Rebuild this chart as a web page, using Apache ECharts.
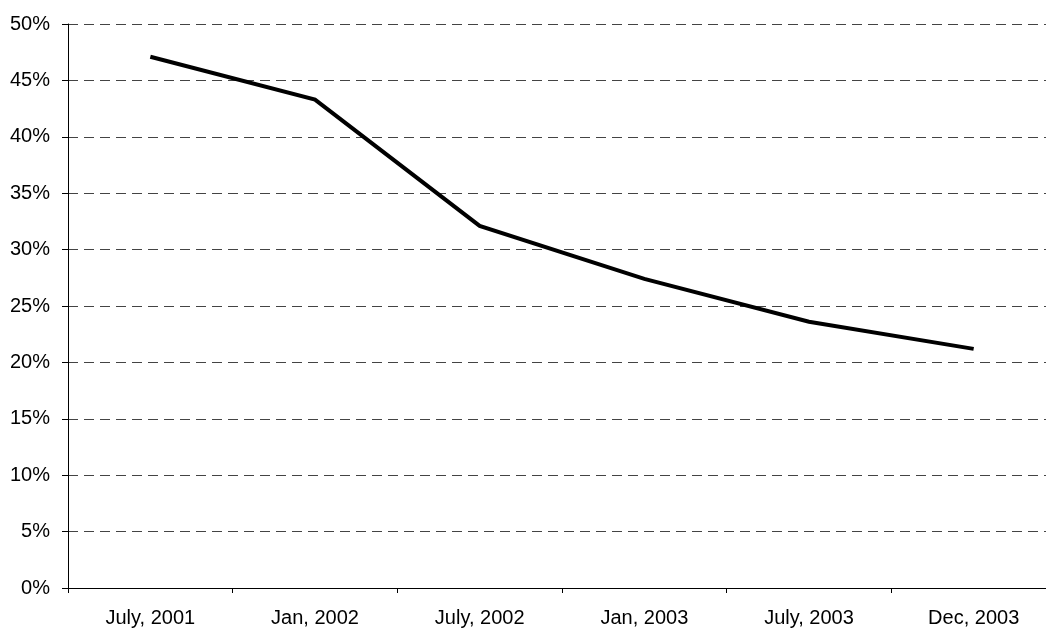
<!DOCTYPE html>
<html>
<head>
<meta charset="utf-8">
<script src="https://cdn.jsdelivr.net/npm/echarts@6/dist/echarts.min.js"></script>
<style>
  html, body { margin: 0; padding: 0; background: #fff; overflow: hidden; }
  #chart { width: 1056px; height: 628px; }
</style>
</head>
<body>
<div id="chart"></div>
<script>
// Period labels along the bottom axis
const periods = ['July, 2001', 'Jan, 2002', 'July, 2002', 'Jan, 2003', 'July, 2003', 'Dec, 2003'];
// Share in percent for each period
const shareValues = [47.1, 43.3, 32.1, 27.4, 23.6, 21.2];
// Value-axis range and step (percent)
const yMin = 0;
const yMax = 50;
const yStep = 5;

const chart = echarts.init(document.getElementById('chart'), null, { renderer: 'canvas' });

const labelFont = { fontFamily: 'Liberation Sans, Arial, sans-serif', fontSize: 20, color: '#000' };

chart.setOption({
  animation: false,
  backgroundColor: '#fff',
  grid: { left: 68, right: 0, top: 24, bottom: 39, containLabel: false },
  xAxis: {
    type: 'category',
    data: periods,
    boundaryGap: true,
    axisLine: { show: true, lineStyle: { color: '#000', width: 1 } },
    axisTick: { show: true, length: 5, inside: false, alignWithLabel: false, lineStyle: { color: '#000', width: 1 } },
    axisLabel: Object.assign({ margin: 20, interval: 0 }, labelFont),
    splitLine: { show: false }
  },
  yAxis: {
    type: 'value',
    min: yMin,
    max: yMax,
    interval: yStep,
    axisLine: { show: true, lineStyle: { color: '#000', width: 1 } },
    axisTick: { show: true, length: 6, inside: false, lineStyle: { color: '#000', width: 1 } },
    axisLabel: Object.assign({ margin: 18, formatter: '{value}%' }, labelFont),
    splitLine: { show: true, lineStyle: { color: '#444', width: 1, type: [10, 6] } }
  },
  series: [{
    type: 'line',
    data: shareValues,
    showSymbol: false,
    symbol: 'none',
    lineStyle: { color: '#000', width: 4, join: 'miter' },
    itemStyle: { color: '#000' }
  }]
});
</script>
</body>
</html>
